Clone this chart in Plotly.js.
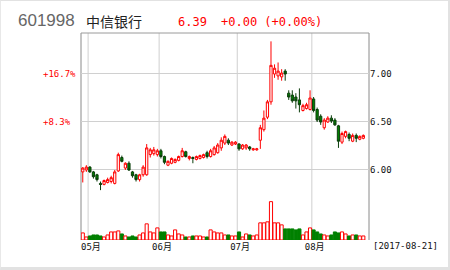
<!DOCTYPE html>
<html>
<head>
<meta charset="utf-8">
<script src="https://cdn.plot.ly/plotly-3.0.1.min.js"></script>
<style>
html,body{margin:0;padding:0;background:#fff;}
#wrap{position:relative;width:450px;height:270px;}
#chart{width:450px;height:270px;}
#frame{position:absolute;left:0;top:0;width:450px;height:270px;box-sizing:border-box;border-top:1px solid #e2e2e2;border-left:1px solid #e8e8e8;border-right:2px solid #e2e2e2;border-bottom:3px solid #e2e2e2;pointer-events:none;}
</style>
</head>
<body>
<div id="wrap"><div id="chart"></div><div id="frame"></div></div>
<script>
// ---- data ----
const dates = [
 "2017-04-27","2017-04-28",
 "2017-05-02","2017-05-03","2017-05-04","2017-05-05","2017-05-08","2017-05-09","2017-05-10","2017-05-11","2017-05-12",
 "2017-05-15","2017-05-16","2017-05-17","2017-05-18","2017-05-19","2017-05-22","2017-05-23","2017-05-24","2017-05-25","2017-05-26","2017-05-31",
 "2017-06-01","2017-06-02","2017-06-05","2017-06-06","2017-06-07","2017-06-08","2017-06-09","2017-06-12","2017-06-13","2017-06-14","2017-06-15",
 "2017-06-16","2017-06-19","2017-06-20","2017-06-21","2017-06-22","2017-06-23","2017-06-26","2017-06-27","2017-06-28","2017-06-29","2017-06-30",
 "2017-07-03","2017-07-04","2017-07-05","2017-07-06","2017-07-07","2017-07-10","2017-07-11","2017-07-12","2017-07-13","2017-07-14","2017-07-17",
 "2017-07-18","2017-07-19","2017-07-20","2017-07-21","2017-07-24","2017-07-25","2017-07-26","2017-07-27","2017-07-28","2017-07-31",
 "2017-08-01","2017-08-02","2017-08-03","2017-08-04","2017-08-07","2017-08-08","2017-08-09","2017-08-10","2017-08-11","2017-08-14",
 "2017-08-15","2017-08-16","2017-08-17","2017-08-18","2017-08-21"
];
const openP = [5.98,6.00,6.03,5.98,5.95,5.86,5.85,5.87,5.88,5.86,
 5.99,6.13,6.02,6.07,5.98,5.95,5.90,5.95,5.95,6.16,
 6.17,6.16,6.20,6.14,6.05,6.07,6.08,6.10,6.14,6.19,
 6.12,6.13,6.11,6.12,6.13,6.18,6.14,6.16,6.18,6.23,
 6.28,6.31,6.26,6.27,6.27,6.22,6.23,6.24,6.21,6.21,
 6.31,6.42,6.55,6.71,7.00,6.98,6.97,7.03,6.80,6.78,
 6.76,6.73,6.62,6.64,6.63,6.74,6.63,6.56,6.44,6.50,
 6.54,6.52,6.46,6.29,6.35,6.37,6.30,6.36,6.32,6.33];
const highP = [6.03,6.05,6.04,5.99,5.96,5.88,5.90,5.92,5.94,6.00,
 6.18,6.15,6.08,6.09,5.99,5.96,5.96,6.05,6.27,6.23,
 6.24,6.22,6.22,6.15,6.10,6.13,6.12,6.15,6.23,6.20,
 6.15,6.14,6.15,6.16,6.17,6.20,6.22,6.25,6.28,6.34,
 6.37,6.33,6.30,6.30,6.28,6.27,6.27,6.25,6.23,6.23,
 6.47,6.62,6.73,7.34,7.10,7.12,7.05,7.05,6.83,6.83,
 6.80,6.85,6.69,6.70,6.83,6.76,6.65,6.58,6.54,6.56,
 6.57,6.54,6.47,6.40,6.41,6.39,6.38,6.38,6.36,6.37];
const lowP = [5.87,5.98,5.97,5.91,5.88,5.79,5.84,5.86,5.86,5.85,
 5.98,6.08,6.00,5.99,5.92,5.88,5.88,5.93,5.94,6.13,
 6.15,6.14,6.12,6.06,6.04,6.06,6.07,6.09,6.13,6.13,
 6.10,6.07,6.10,6.11,6.12,6.12,6.13,6.15,6.17,6.20,
 6.26,6.26,6.25,6.26,6.20,6.21,6.21,6.20,6.20,6.20,
 6.22,6.40,6.53,6.68,6.96,6.94,6.93,6.93,6.73,6.70,
 6.64,6.60,6.61,6.63,6.62,6.60,6.50,6.47,6.42,6.49,
 6.49,6.46,6.23,6.27,6.33,6.30,6.29,6.29,6.31,6.32];
const closeP = [6.02,6.03,5.98,5.93,5.90,5.85,5.89,5.90,5.92,5.98,
 6.16,6.09,6.07,6.00,5.94,5.90,5.95,6.03,6.23,6.21,
 6.21,6.20,6.14,6.08,6.09,6.12,6.11,6.14,6.20,6.14,
 6.14,6.12,6.14,6.15,6.16,6.14,6.20,6.23,6.26,6.31,
 6.35,6.28,6.29,6.29,6.22,6.26,6.26,6.22,6.22,6.22,
 6.44,6.54,6.71,7.09,7.06,7.03,7.01,7.00,6.76,6.72,
 6.72,6.68,6.67,6.68,6.75,6.62,6.52,6.50,6.52,6.54,
 6.51,6.47,6.30,6.38,6.40,6.33,6.36,6.33,6.35,6.36];
const volume = [7,3,4,5,5,4,3,5,8,8,
 9,6,4,3,4,3,5,7,16,8,
 7,12,8,8,5,4,10,6,5,3,
 3,4,4,4,3,3,10,8,7,7,
 5,5,4,4,8,3,6,5,4,5,
 17,17,18,38,17,17,15,11,11,11,
 10,11,5,8,12,10,8,6,5,4,
 5,8,7,8,6,4,5,5,4,4];
const priceTicks = [6.00, 6.50, 7.00];
const priceTickText = ["6.00", "6.50", "7.00"];
const pctLevels = [7.00, 6.50];
const pctLabels = ["+16.7%", "+8.3%"];
const monthLabels = ["05月", "06月", "07月", "08月"];
const stockCode = "601998";
const stockName = "中信银行";
const lastPrice = "6.39";
const changeText = "+0.00 (+0.00%)";
const dateLabel = "[2017-08-21]";

// ---- build ----
const idx = dates.map((d, i) => i);
const monthStarts = [];
dates.forEach((d, i) => { if (i > 0 && d.slice(5, 7) !== dates[i - 1].slice(5, 7)) monthStarts.push(i); });
const up = closeP.map((c, i) => c >= openP[i]);
const RED = "#ff0000", GREEN = "#008000", DKGREEN = "#0b3d0b";

const candle = {
  type: "candlestick", x: idx, open: openP, high: highP, low: lowP, close: closeP,
  xaxis: "x", yaxis: "y", whiskerwidth: 0,
  increasing: {line: {color: RED, width: 1}, fillcolor: "#ffffff"},
  decreasing: {line: {color: DKGREEN, width: 1}, fillcolor: GREEN},
  hoverinfo: "none"
};
const vol = {
  type: "bar", x: idx, y: volume, xaxis: "x", yaxis: "y2",
  marker: {color: up.map(u => u ? "#ffffff" : GREEN), line: {color: up.map(u => u ? RED : GREEN), width: 1}},
  hoverinfo: "none"
};

const mono = "DejaVu Sans Mono, Noto Sans CJK SC, monospace";
const shapes = [];
monthStarts.forEach(m => shapes.push({type: "line", xref: "x", yref: "paper", x0: m - 0.5, x1: m - 0.5, y0: 0, y1: 1, line: {color: "#cfcfcf", width: 1}, layer: "below"}));
shapes.push({type: "line", xref: "paper", yref: "paper", x0: 0, x1: 0, y0: 0, y1: 1, line: {color: "#8a8a8a", width: 1}, layer: "below"});
shapes.push({type: "line", xref: "paper", yref: "paper", x0: 1, x1: 1, y0: 0, y1: 1, line: {color: "#8a8a8a", width: 1}, layer: "below"});
shapes.push({type: "line", xref: "paper", yref: "paper", x0: 0, x1: 1, y0: 1, y1: 1, line: {color: "#9a9a9a", width: 1}, layer: "below"});

const annotations = [
  {text: stockCode, xref: "paper", yref: "paper", x: -0.225, y: 1.058, xanchor: "left", yanchor: "middle", showarrow: false, font: {family: "Liberation Sans, Arial", size: 17, color: "#666666"}},
  {text: stockName, xref: "paper", yref: "paper", x: 0.01, y: 1.058, xanchor: "left", yanchor: "middle", showarrow: false, font: {family: "Noto Sans CJK SC", size: 14, color: "#222222"}},
  {text: lastPrice, xref: "paper", yref: "paper", x: 0.33, y: 1.053, xanchor: "left", yanchor: "middle", showarrow: false, font: {family: mono, size: 12, color: RED}},
  {text: changeText, xref: "paper", yref: "paper", x: 0.48, y: 1.053, xanchor: "left", yanchor: "middle", showarrow: false, font: {family: mono, size: 12, color: RED}},
  {text: dateLabel, xref: "paper", yref: "paper", x: 1.008, y: -0.03, xanchor: "left", yanchor: "middle", showarrow: false, font: {family: mono, size: 9, color: "#111111"}}
];
pctLevels.forEach((lv, k) => annotations.push({text: pctLabels[k], xref: "paper", yref: "y", x: -0.14, y: lv, xanchor: "left", yanchor: "middle", showarrow: false, font: {family: mono, size: 9, color: RED}}));

const layout = {
  width: 450, height: 270,
  margin: {l: 81, r: 81, t: 33, b: 30, pad: 0},
  paper_bgcolor: "#ffffff", plot_bgcolor: "#ffffff",
  showlegend: false, bargap: 0.12, boxgap: 0.1,
  xaxis: {range: [-0.5, 80.6], anchor: "y2", showgrid: false, zeroline: false, showline: false,
    tickmode: "array", tickvals: monthStarts.map(m => m + 0.3), ticktext: monthLabels, ticks: "",
    tickfont: {family: mono, size: 9, color: "#111111"}, rangeslider: {visible: false}, fixedrange: true},
  yaxis: {domain: [0.22, 1], range: [5.745, 7.427], side: "right", anchor: "x",
    tickmode: "array", tickvals: priceTicks, ticktext: priceTickText, ticks: "",
    showgrid: true, gridcolor: "#d0d0d0", gridwidth: 1, zeroline: false, showline: false,
    tickfont: {family: mono, size: 9, color: "#111111"}, fixedrange: true},
  yaxis2: {domain: [0, 0.195], range: [0, 40], anchor: "x", showgrid: false, zeroline: false,
    showticklabels: false, ticks: "", fixedrange: true},
  shapes: shapes, annotations: annotations
};
Plotly.newPlot("chart", [candle, vol], layout, {displayModeBar: false, staticPlot: true});
</script>
</body>
</html>
